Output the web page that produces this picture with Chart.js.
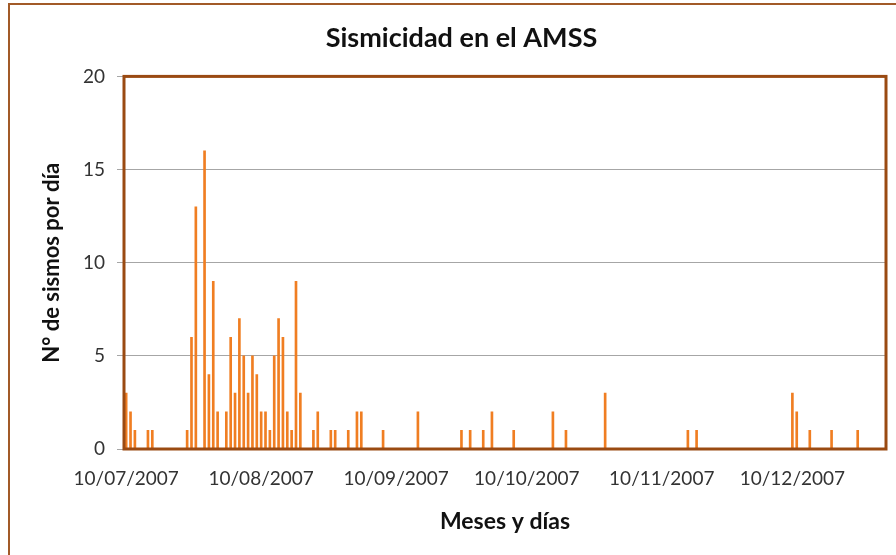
<!DOCTYPE html>
<html>
<head>
<meta charset="utf-8">
<style>
  html, body { margin: 0; padding: 0; background: #fff; }
  #wrap { width: 896px; height: 555px; }
</style>
<script src="https://cdn.jsdelivr.net/npm/chart.js@4/dist/chart.umd.min.js"></script>
</head>
<body>
<div id="wrap"><canvas id="c" width="896" height="555"></canvas></div>
<script>
// daily earthquake counts, 10/07/2007 .. 31/12/2007 (one row per month)
const julCounts = [3, 2, 1, 0, 0, 1, 1, 0, 0, 0, 0, 0, 0, 0, 1, 6, 13, 0, 16, 4, 9, 2];
const augCounts = [0, 2, 6, 3, 7, 5, 3, 5, 4, 2, 2, 1, 5, 7, 6, 2, 1, 9, 3, 0, 0, 1, 2, 0, 0, 1, 1, 0, 0, 1, 0];
const sepCounts = [2, 2, 0, 0, 0, 0, 1, 0, 0, 0, 0, 0, 0, 0, 2, 0, 0, 0, 0, 0, 0, 0, 0, 0, 1, 0, 1, 0, 0, 1];
const octCounts = [0, 2, 0, 0, 0, 0, 1, 0, 0, 0, 0, 0, 0, 0, 0, 2, 0, 0, 1, 0, 0, 0, 0, 0, 0, 0, 0, 3, 0, 0, 0];
const novCounts = [0, 0, 0, 0, 0, 0, 0, 0, 0, 0, 0, 0, 0, 0, 0, 1, 0, 1, 0, 0, 0, 0, 0, 0, 0, 0, 0, 0, 0, 0];
const decCounts = [0, 0, 0, 0, 0, 0, 0, 0, 0, 3, 2, 0, 0, 1, 0, 0, 0, 0, 1, 0, 0, 0, 0, 0, 1, 0, 0, 0, 0, 0, 0];

const shownTicks = ['10/07/2007', '10/08/2007', '10/09/2007', '10/10/2007', '10/11/2007', '10/12/2007'];
const yTicks = [0, 5, 10, 15, 20];

const counts = [...julCounts, ...augCounts, ...sepCounts, ...octCounts, ...novCounts, ...decCounts];

// one category per day
const pad = (n) => String(n).padStart(2, '0');
const days = [];
for (let d = new Date(2007, 6, 10); days.length < counts.length; d.setDate(d.getDate() + 1)) {
  days.push(pad(d.getDate()) + '/' + pad(d.getMonth() + 1) + '/' + d.getFullYear());
}

const FONT = 'Lato, "Open Sans", sans-serif';
const BROWN = '#9a4a12';

// plot area box and the outer chart frame
const framePlugin = {
  id: 'frame',
  beforeDraw(chart) {
    const ctx = chart.ctx;
    ctx.save();
    ctx.strokeStyle = '#a25a28';
    ctx.lineWidth = 2;
    ctx.beginPath();
    ctx.moveTo(9, 555);
    ctx.lineTo(9, 4);
    ctx.lineTo(896, 4);
    ctx.stroke();
    ctx.restore();
  },
  afterDatasetsDraw(chart) {
    const { left, top, right, bottom } = chart.chartArea;
    const ctx = chart.ctx;
    ctx.save();
    ctx.strokeStyle = BROWN;
    ctx.lineWidth = 3;
    ctx.strokeRect(left, top, right - left, bottom - top);
    ctx.restore();
  }
};

new Chart(document.getElementById('c'), {
  type: 'bar',
  data: {
    labels: days,
    datasets: [{
      data: counts,
      backgroundColor: '#f07e22',
      barThickness: 2,
      borderWidth: 0
    }]
  },
  options: {
    responsive: false,
    animation: false,
    layout: { padding: { left: 37, right: 10, top: 0, bottom: 0 } },
    plugins: {
      legend: { display: false },
      tooltip: { enabled: false },
      title: {
        display: true,
        text: 'Sismicidad en el AMSS',
        color: '#111',
        font: { family: FONT, size: 27, weight: 'bold' },
        padding: { top: 22, bottom: 22 }
      }
    },
    scales: {
      x: {
        grid: { display: false, drawTicks: false },
        border: { display: false },
        ticks: {
          autoSkip: false,
          maxRotation: 0,
          padding: 18,
          color: '#333',
          font: { family: FONT, size: 19 },
          callback(v) {
            const lab = this.getLabelForValue(v);
            return shownTicks.includes(lab) ? lab : '';
          }
        },
        title: {
          display: true,
          text: 'Meses y días',
          color: '#111',
          font: { family: FONT, size: 23, weight: 'bold' },
          padding: { top: 0, bottom: 20 }
        },
        afterFit(scale) {
          scale.height = 106;
          scale.paddingLeft = 0;
          scale.paddingRight = 0;
        }
      },
      y: {
        min: 0,
        max: 20,
        afterBuildTicks(scale) { scale.ticks = yTicks.map(v => ({ value: v })); },
        grid: { color: '#a6a6a6', lineWidth: 1, tickLength: 7, tickColor: '#a6a6a6' },
        border: { display: false },
        ticks: {
          padding: 12,
          color: '#333',
          font: { family: FONT, size: 19 }
        },
        title: {
          display: true,
          text: 'N° de sismos por día',
          color: '#111',
          font: { family: FONT, size: 22, weight: 'bold' },
          padding: { top: 2, bottom: 0 }
        },
        afterFit(scale) { scale.width = 87; }
      }
    }
  },
  plugins: [framePlugin]
});
</script>
</body>
</html>
